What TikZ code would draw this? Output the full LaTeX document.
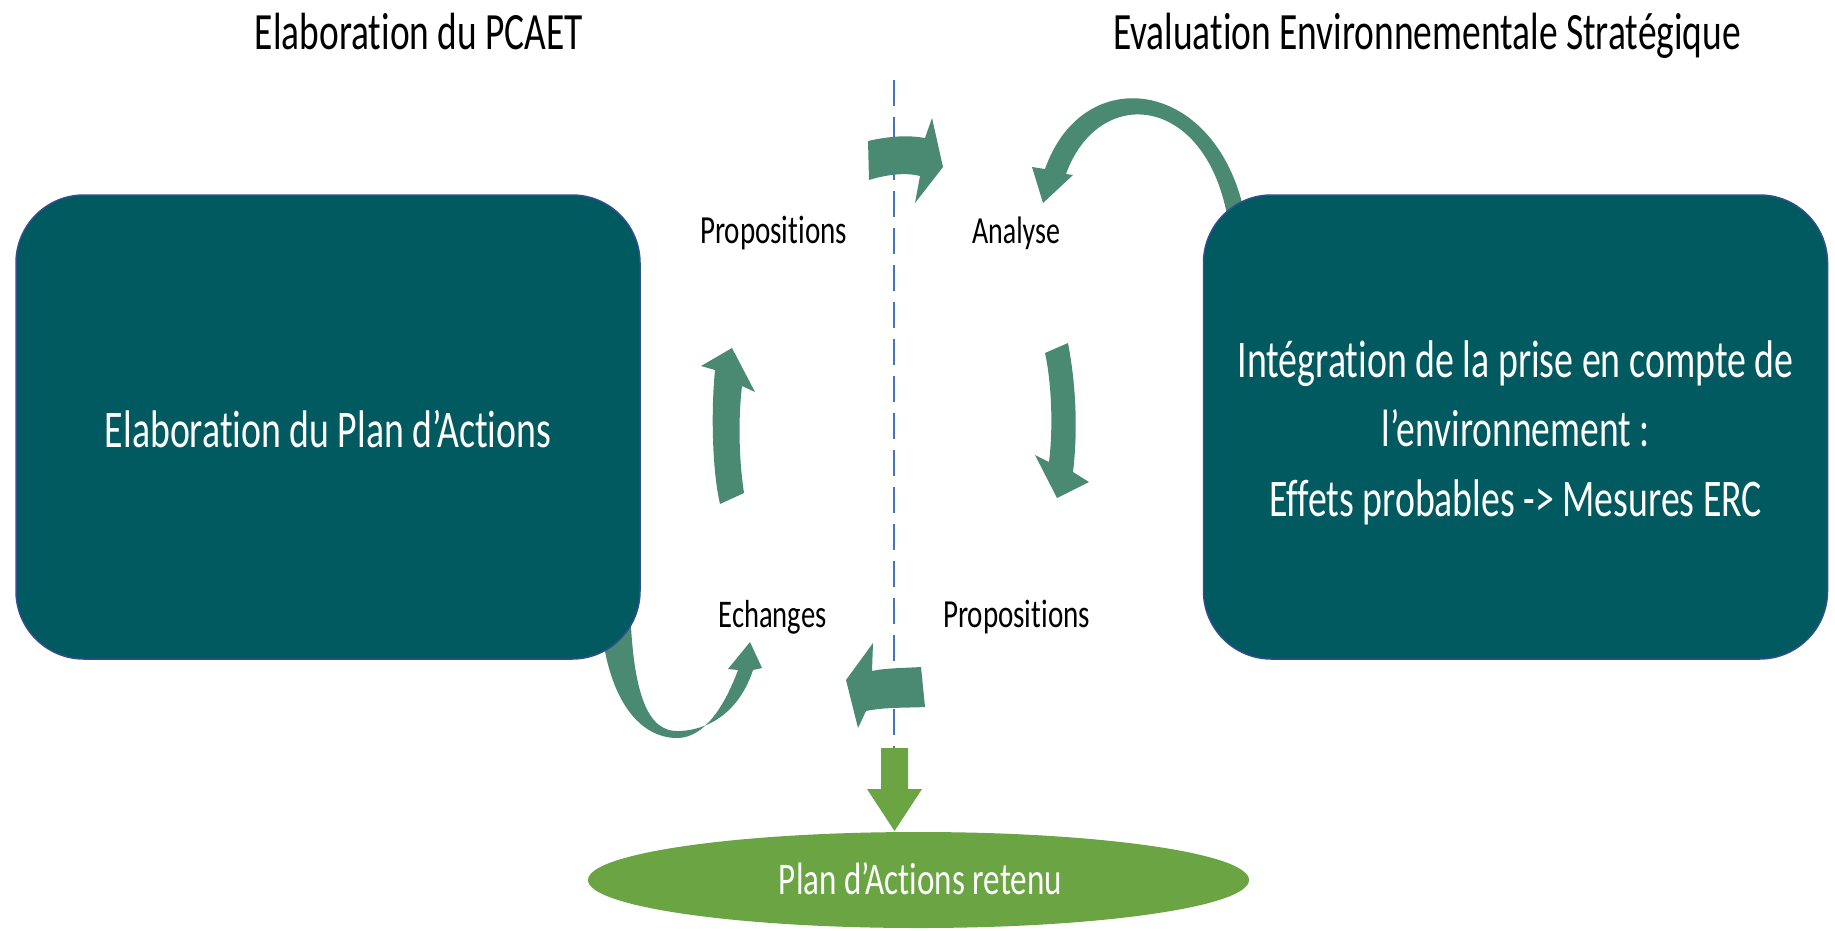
\documentclass[tikz,border=0pt]{standalone}
\usepackage{fontspec}
\setmainfont{Carlito}[Ligatures=NoCommon]
\usetikzlibrary{shapes.geometric}
\definecolor{boxteal}{HTML}{005A60}
\definecolor{arrowgreen}{HTML}{4B8A72}
\definecolor{leafgreen}{HTML}{6AA443}
\definecolor{dashblue}{HTML}{4472C4}
\definecolor{boxedge}{HTML}{2F4F8F}
\newcommand\fitw[3]{\scalebox{1}[#2]{\resizebox{#1}{!}{#3}}}
\begin{document}
\begin{tikzpicture}[x=1pt,y=-1pt,
  every node/.style={inner sep=0pt,outer sep=0pt},
  bigtext/.style={anchor=base,font=\fontsize{37.5}{45}\selectfont},
  smalltext/.style={anchor=base,font=\fontsize{29}{35}\selectfont,text=black},
  tealbox/.style={draw=boxedge,line width=1.5pt,fill=boxteal,rounded corners=68pt,
     minimum width=624pt,minimum height=464pt},
  blockarrow/.style={fill=arrowgreen,draw=none}]
\useasboundingbox (0,0) rectangle (1835,930);
\fill[white] (0,0) rectangle (1835,930);

% curved arrows behind boxes
\fill[blockarrow] (1248,235) .. controls (1230,80) and (1085,55) .. (1045,169)
  -- (1032,167) -- (1043,203) -- (1073,175) -- (1066,174)
  .. controls (1100,80) and (1215,95) .. (1230,235) -- cycle;
\fill[blockarrow] (600,610) .. controls (605,700) and (640,738) .. (677,738)
  .. controls (705,738) and (725,705) .. (738,670)
  -- (728,669) -- (750,642) -- (762,668) -- (753,670)
  .. controls (740,710) and (710,731) .. (677,731)
  .. controls (650,731) and (632,700) .. (630,600) -- cycle;

% boxes
\node[tealbox] (lbox) at (328,427) {};
\node[tealbox] (rbox) at (1515.5,427) {};

% titles
\node[bigtext,text=black] (ltitle) at (419,49) {\fitw{328pt}{1.4}{Elaboration du PCAET}};
\node[bigtext,text=black] (rtitle) at (1427,49) {\fitw{628pt}{1.4}{Evaluation Environnementale Stratégique}};

% box texts
\node[bigtext,text=white] (ltext) at (328,447) {\fitw{446pt}{1.4}{Elaboration du Plan d’Actions}};
\node[bigtext,text=white] (rtext1) at (1515.5,377) {\fitw{556pt}{1.4}{Intégration de la prise en compte de}};
\node[bigtext,text=white] (rtext2) at (1515.5,446) {\fitw{268pt}{1.4}{l’environnement :}};
\node[bigtext,text=white] (rtext3) at (1515.5,516) {\fitw{493pt}{1.4}{Effets probables -> Mesures ERC}};

% dashed separator
\coordinate (dtop) at (894,80);
\coordinate (dbot) at (894,749);
\draw[dashblue,line width=2.5pt,dash pattern=on 26pt off 11pt] (dtop) -- (dbot);

% labels
\node[smalltext] (prop1) at (773.5,243) {\fitw{147pt}{1.37}{Propositions}};
\node[smalltext] (analyse) at (1016,243) {\fitw{88pt}{1.37}{Analyse}};
\node[smalltext] (echanges) at (772.5,627) {\fitw{108pt}{1.37}{Echanges}};
\node[smalltext] (prop2) at (1016.5,627) {\fitw{147pt}{1.37}{Propositions}};

% block arrows of the cycle
\fill[blockarrow] (868,141) .. controls (890,136) and (908,135) .. (925,138)
  -- (932,118) -- (943,167) -- (915,203) -- (920,176)
  .. controls (905,172) and (885,175) .. (869,180) -- cycle;
\fill[blockarrow] (1045,353) .. controls (1052,385) and (1053,430) .. (1049,462)
  -- (1035,455) -- (1057,498) -- (1089,482) -- (1073,472)
  .. controls (1078,430) and (1076,385) .. (1068,343) -- cycle;
\fill[blockarrow] (921,667) .. controls (905,668) and (885,668) .. (872,671)
  -- (873,643) -- (846,680) -- (858,728) -- (866,711)
  .. controls (885,707) and (905,708) .. (925,707) -- cycle;
\fill[blockarrow] (720,504) .. controls (712,470) and (711,410) .. (715,370)
  -- (701,366) -- (732,348) -- (755,392) -- (742,386)
  .. controls (738,420) and (739,460) .. (744,493) -- cycle;

% result
\node[ellipse,fill=leafgreen,minimum width=661pt,minimum height=96pt] (plan) at (918.5,880) {};
\node[anchor=base,font=\fontsize{32.5}{39}\selectfont,text=white] (plantext) at (920.5,894) {\fitw{283pt}{1.37}{Plan d’Actions retenu}};
\fill[leafgreen] (881,748) -- (908,748) -- (908,789) -- (922,789) -- (894.5,831) -- (867,789) -- (881,789) -- cycle;
\end{tikzpicture}
\end{document}
